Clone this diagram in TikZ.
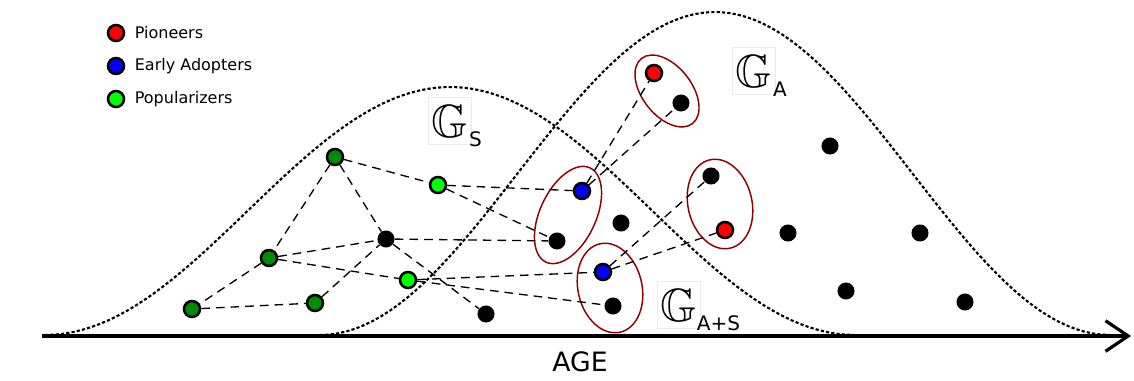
\documentclass[tikz,border=0pt]{standalone}
\usepackage{amssymb}
\usepackage{fontspec}
\setmainfont{DejaVu Sans}
\usetikzlibrary{positioning,arrows.meta,shapes.geometric}

\begin{document}
\begin{tikzpicture}[
  x=0.75pt, y=-0.75pt,
  dot/.style={circle, inner sep=0pt, minimum size=12pt, draw=black, line width=1.9pt},
  pion/.style={dot, fill=red},
  early/.style={dot, fill=blue},
  popd/.style={dot, fill=green!55!black},
  popl/.style={dot, fill=green},
  user/.style={circle, inner sep=0pt, minimum size=12.8pt, fill=black},
  grp/.style={ellipse, draw=red!55!black, line width=1.1pt, inner sep=0pt},
  link/.style={dash pattern=on 6.5pt off 4.5pt, line width=1pt},
  bell/.style={dash pattern=on 2.4pt off 1.6pt, line width=1.6pt},
  glab/.style={fill=white, draw=black!8, inner sep=0pt, minimum width=32pt, minimum height=35pt,
               font=\fontsize{35}{35}\selectfont},
  sub/.style={font=\fontsize{15}{15}\selectfont, inner sep=0pt, anchor=base west},
  leg/.style={font=\fontsize{12}{14}\selectfont, inner sep=0pt},
]
\useasboundingbox (0,0) rectangle (1134,381);

% the two age curves
\draw[bell] plot[domain=45:855, samples=90] (\x, {335-124*(1+cos((\x-450)/405*180))});
\draw[bell] plot[domain=320:1110, samples=90] (\x, {335-161.5*(1+cos((\x-715)/395*180))});

% groups
\node[grp, minimum width=78pt, minimum height=42pt, rotate=65]  (grp1) at (568,215) {};
\node[grp, minimum width=68pt, minimum height=48pt, rotate=103] (grp2) at (610,288) {};
\node[grp, minimum width=62pt, minimum height=37pt, rotate=128] (grp3) at (667,91) {};
\node[grp, minimum width=68pt, minimum height=48pt, rotate=103] (grp4) at (720,204) {};

% labels
\node[glab] (gS) at (450,121) {$\mathbb{G}$};
\node[sub] (subS) at ([xshift=-2pt,yshift=-1.5pt]gS.south east) {S};
\node[glab] (gA) at (754,71) {$\mathbb{G}$};
\node[sub] (subA) at ([xshift=-2pt,yshift=-1.5pt]gA.south east) {A};
\node[glab] (gAS) at (679,305) {$\mathbb{G}$};
\node[sub] (subAS) at ([xshift=-3pt,yshift=-1.5pt]gAS.south east) {A+S};

% legend
\node[pion]  (lp) at (116,33) {};
\node[early] (le) at (116,66) {};
\node[popl]  (lg) at (116,99) {};
\node[leg, right=7pt of lp] {Pioneers};
\node[leg, right=7pt of le] {Early Adopters};
\node[leg, right=7pt of lg] {Popularizers};

% agents
\node[popd]  (pop1)   at (335,157) {};
\node[popd]  (pop2)   at (269,258) {};
\node[popd]  (pop3)   at (192,309) {};
\node[popd]  (pop4)   at (315,303) {};
\node[popl]  (lpop1)  at (438,185) {};
\node[popl]  (lpop2)  at (408,280) {};
\node[early] (adopt1) at (582,191) {};
\node[early] (adopt2) at (603,272) {};
\node[pion]  (pion1)  at (654,73) {};
\node[pion]  (pion2)  at (725,230) {};
\node[user]  (u1)  at (386,239) {};
\node[user]  (u2)  at (486,314) {};
\node[user]  (u3)  at (557,241) {};
\node[user]  (u4)  at (621,223) {};
\node[user]  (u5)  at (613,306) {};
\node[user]  (u6)  at (681,103) {};
\node[user]  (u7)  at (711,176) {};
\node[user]  (u8)  at (830,146) {};
\node[user]  (u9)  at (788,233) {};
\node[user]  (u10) at (920,233) {};
\node[user]  (u11) at (846,291) {};
\node[user]  (u12) at (965,302) {};

% links
\draw[link] (pop1) -- (lpop1);
\draw[link] (pop1) -- (u1);
\draw[link] (pop1) -- (pop2);
\draw[link] (pop2) -- (u1);
\draw[link] (pop2) -- (lpop2);
\draw[link] (pop2) -- (pop3);
\draw[link] (pop3) -- (pop4);
\draw[link] (pop4) -- (u1);
\draw[link] (u1) -- (u3);
\draw[link] (u1) -- (u2);
\draw[link] (lpop1) -- (adopt1);
\draw[link] (lpop1) -- (u3);
\draw[link] (lpop2) -- (adopt2);
\draw[link] (lpop2) -- (u5);
\draw[link] (adopt1) -- (pion1);
\draw[link] (adopt1) -- (u6);
\draw[link] (adopt2) -- (u7);
\draw[link] (adopt2) -- (pion2);

% age axis
\coordinate (ageL) at (42,336);
\coordinate (ageR) at (1131,336);
\draw[line width=2.4pt, -{Straight Barb[length=17pt,width=23pt]}] (ageL) -- (ageR);
\node[font=\fontsize{20}{22}\selectfont] (age) at (580,362) {AGE};
\end{tikzpicture}
\end{document}
